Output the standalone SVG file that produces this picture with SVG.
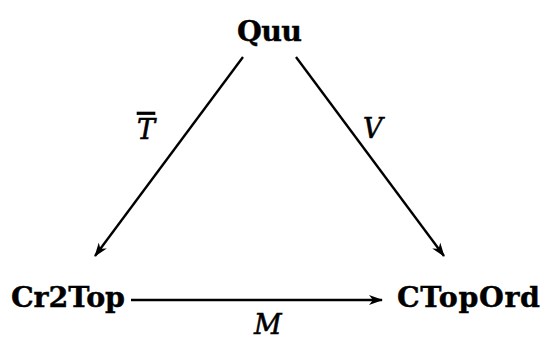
<svg xmlns="http://www.w3.org/2000/svg" width="545" height="341" viewBox="0 0 545 341">
<defs>
<style>
.node{font-family:"DejaVu Serif","Liberation Serif",serif;font-weight:bold;font-size:28.5px;fill:#000;stroke:#000;stroke-width:0.4}
.lbl{font-family:"DejaVu Serif","Liberation Serif",serif;font-style:italic;font-size:27px;fill:#000;stroke:#000;stroke-width:0.6}
.edge{stroke:#000;stroke-width:2.4;fill:none}
</style>
<marker id="ah" viewBox="0 0 14 10" refX="13" refY="5" markerWidth="14" markerHeight="10" markerUnits="userSpaceOnUse" orient="auto">
<path d="M0,0 L14,5 L0,10 L4,5 Z" fill="#000"/>
</marker>
</defs>
<rect width="545" height="341" fill="#fff"/>
<g id="connectors">
<line class="edge" x1="243" y1="57" x2="95" y2="256" marker-end="url(#ah)"/>
<line class="edge" x1="296" y1="57" x2="444" y2="256" marker-end="url(#ah)"/>
<line class="edge" x1="131" y1="300" x2="382" y2="300" marker-end="url(#ah)"/>
<text class="lbl" x="137" y="139" text-decoration="overline">T</text>
<text class="lbl" x="363" y="138">V</text>
<text class="lbl" x="254" y="334">M</text>
</g>
<g id="Quu"><text class="node" x="237" y="41" textLength="65" lengthAdjust="spacing">Quu</text></g>
<g id="Cr2Top"><text class="node" x="11" y="307" textLength="114" lengthAdjust="spacing">Cr2Top</text></g>
<g id="CTopOrd"><text class="node" x="397" y="307" textLength="143" lengthAdjust="spacing">CTopOrd</text></g>
</svg>
